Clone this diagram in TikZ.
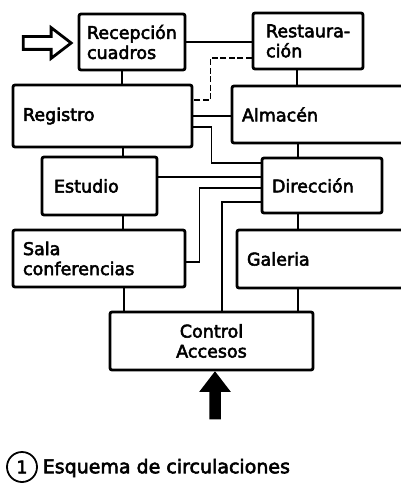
\documentclass[tikz,border=0pt]{standalone}
\usepackage{fontspec}
\setmainfont{DejaVu Sans}
\newfontfamily\heavyfont[FakeBold=3]{DejaVu Sans}
\usetikzlibrary{shapes.arrows}

\begin{document}
\begin{tikzpicture}[x=1pt,y=-1pt,line width=1.5pt,
	box/.style={draw, line width=2.8pt, rounded corners=2pt, align=left, inner xsep=10pt, inner ysep=0pt, font=\heavyfont\fontsize{17.5}{20}\selectfont},
	arrowin/.style={single arrow, single arrow tip angle=75}]
	\useasboundingbox (0,0) rectangle (401,492);
	\node (rec) at (132,42)    [box, inner xsep=8pt, text width=90pt, minimum height=56pt]	{Recepción\\cuadros};
	\node (res) at (308,41)    [box, inner xsep=13pt, text width=84pt, minimum height=56pt]	{\mbox{Restaura-}\\ción};
	\node (reg) at (102.5,116) [box, text width=159pt, minimum height=62pt]	{Registro};
	\node (alm) at (318,114.5) [box, text width=152pt, minimum height=57pt]	{Almacén};
	\node (est) at (99.5,186)  [box, inner xsep=12pt, text width=91pt, minimum height=58pt]	{Estudio};
	\node (dir) at (322,185.5) [box, text width=100pt, minimum height=55pt]	{Dirección};
	\node (sal) at (99,258.5)  [box, text width=152pt, minimum height=57pt]	{Sala\\conferencias};
	\node (gal) at (320.5,259) [box, text width=147pt, minimum height=58pt]	{Galeria};
	\node (con) at (211.5,341) [box, align=center, text width=183pt, minimum height=58pt]	{Control\\Accesos};
	\node (zin) at (43,43)     [arrowin, draw, line width=2.8pt, inner xsep=0pt, inner ysep=5pt, minimum height=48pt, single arrow head extend=9pt]	{};
	\node (zacc) at (215,399)  [arrowin, fill=black, shape border rotate=90, inner xsep=5pt, inner ysep=0pt, minimum height=48pt, single arrow head extend=10pt]	{};
	\node (num) at (22,467)    [circle, draw, line width=1.8pt, minimum size=30pt, inner sep=0pt, font=\heavyfont\fontsize{17.5}{20}\selectfont]	{1};
	\node (cap) at (42,468)    [anchor=west, inner sep=0pt, font=\heavyfont\fontsize{19}{22}\selectfont]	{Esquema de circulaciones};
	% upper floor
	\draw (rec.east) -- (rec.east -| res.west);
	\draw ([xshift=-10pt]rec.south) -- ([xshift=-10pt]rec.south |- reg.north);
	\draw ([xshift=-11pt]res.south) -- ([xshift=-11pt]res.south |- alm.north);
	\draw[dash pattern=on 6pt off 2.5pt] ([yshift=-17pt]res.west) -| ([xshift=17pt,yshift=16pt]reg.east) -- ([yshift=16pt]reg.east);
	\draw (reg.east) -- (reg.east -| alm.west);
	\draw ([yshift=-11pt]reg.east) -- ++(18,0) |- ([yshift=22.5pt]dir.west);
	\draw ([xshift=20.5pt]reg.south) -- ([xshift=20.5pt]reg.south |- est.north);
	\draw ([xshift=-24pt]dir.north |- alm.south) -- ([xshift=-24pt]dir.north);
	% lower floor
	\draw ([yshift=9pt]est.east) -- ([yshift=9pt]est.east -| dir.west);
	\draw ([yshift=-3.5pt]sal.east) -- ++(13,0) |- ([yshift=-2.5pt]dir.west);
	\draw ([yshift=-16.5pt]dir.west) -| ([xshift=10.5pt]con.north);
	\draw ([xshift=23.5pt]est.south) -- ([xshift=23.5pt]est.south |- sal.north);
	\draw ([xshift=-24pt]dir.south) -- ([xshift=-24pt]dir.south |- gal.north);
	\draw ([xshift=25pt]sal.south) -- ([xshift=25pt]sal.south |- con.north);
	\draw ([xshift=-22.5pt]gal.south) -- ([xshift=-22.5pt]gal.south |- con.north);
\end{tikzpicture}
\end{document}
